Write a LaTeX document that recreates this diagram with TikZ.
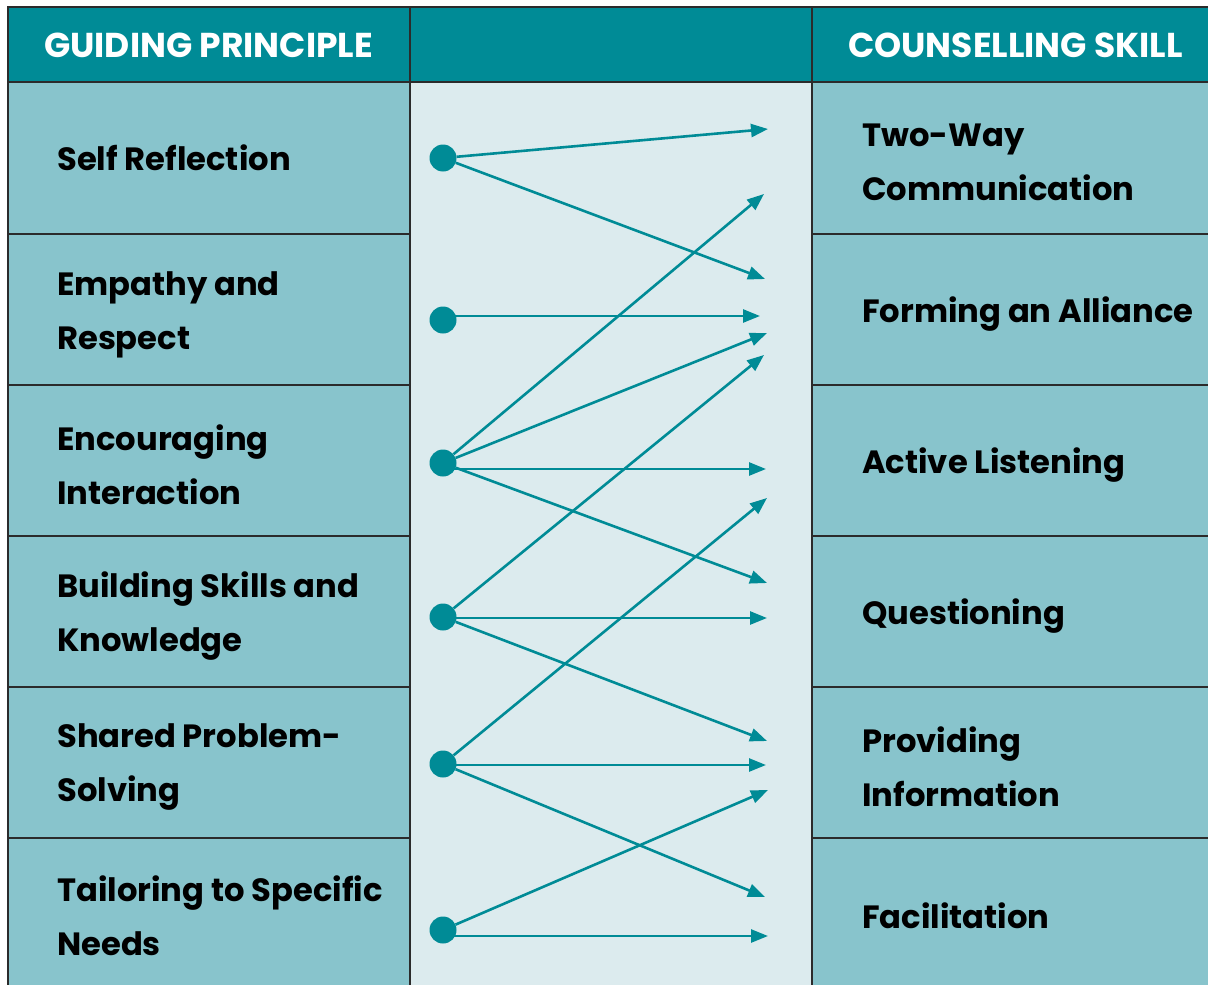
\documentclass[tikz,border=0pt]{standalone}
\usepackage{fontspec}
\setmainfont{Poppins}
\usetikzlibrary{arrows.meta}
\definecolor{tealhd}{HTML}{008B96}
\definecolor{cellbg}{HTML}{88C4CC}
\definecolor{midbg}{HTML}{DCEBEE}
\definecolor{rulec}{HTML}{2B2B2B}
\begin{document}
\begin{tikzpicture}[x=1pt,y=-1pt,>={Triangle[length=17pt,width=13pt]},
  lab/.style={anchor=west,align=left,inner sep=0pt,font=\fontsize{32.2}{54}\selectfont\bfseries},
  head/.style={anchor=west,inner sep=0pt,text=white,font=\fontsize{34.5}{36}\selectfont\bfseries},
  dot/.style={circle,fill=tealhd,inner sep=0pt,minimum size=27pt},
  arr/.style={->,draw=tealhd,fill=tealhd,line width=2.6pt},
  rule/.style={rulec,line width=1.5pt}]
\useasboundingbox (0,0) rectangle (1208,985);
\fill[white] (0,0) rectangle (1208,985);
% backgrounds
\fill[tealhd] (8,7) rectangle (1208,82);
\fill[cellbg] (8,82) rectangle (410,985);
\fill[midbg] (410,82) rectangle (812,985);
\fill[cellbg] (812,82) rectangle (1208,985);
% table rules
\draw[rule] (8,985)--(8,7)--(1208,7);
\draw[rule] (8,82)--(1208,82);
\draw[rule] (410,7)--(410,985) (812,7)--(812,985);
\foreach \y in {234,385,536,687,838}
  {\draw[rule] (8,\y)--(410,\y) (812,\y)--(1208,\y);}
% headers
\node[head] (hprin) at (44,45) {GUIDING PRINCIPLE};
\node[head] (hskill) at (848,45) {COUNSELLING SKILL};
% principles
\node[lab] (p1) at (57,158) {Self Reflection};
\node[lab] (p2) at (57,315) {Empathy and\\Respect};
\node[lab] (p3) at (57,465) {Encouraging\\Interaction};
\node[lab] (p4) at (57,616) {Building Skills and\\Knowledge};
\node[lab] (p5) at (57,767) {Shared Problem-\\Solving};
\node[lab] (p6) at (57,916) {Tailoring to Specific\\Needs};
% skills
\node[lab] (s1) at (862,162) {Two-Way\\Communication};
\node[lab] (s2) at (862,314) {Forming an Alliance};
\node[lab] (s3) at (862,465) {Active Listening};
\node[lab] (s4) at (862,616) {Questioning};
\node[lab] (s5) at (862,767) {Providing\\Information};
\node[lab] (s6) at (862,916) {Facilitation};
% dots
\foreach \n/\y in {1/158,2/320,3/463,4/617,5/764,6/930}
  \node[dot] (d\n) at (443,\y) {};
% arrow tips
\coordinate (t1) at (768,129);
\coordinate (t2) at (764,194);
\coordinate (t3) at (765,279);
\coordinate (t4) at (760,316);
\coordinate (t5) at (767,333);
\coordinate (t6) at (764,355);
\coordinate (t7) at (766,469);
\coordinate (t8) at (767,498);
\coordinate (t9) at (767,583);
\coordinate (t10) at (767,618);
\coordinate (t11) at (767,741);
\coordinate (t12) at (766,765);
\coordinate (t13) at (768,790);
\coordinate (t14) at (765,897);
\coordinate (t15) at (768,936);
\foreach \a/\b in {d1/t1,d1/t3,d3/t2,d3/t5,d3/t9,d4/t6,d4/t11,d5/t8,d5/t14,d6/t13}
  \draw[arr] (\a)--(\b);
% straight across
\foreach \a/\b in {d2/t4,d3/t7,d4/t10,d5/t12,d6/t15}
  \draw[arr] (\b -| \a)--(\b);
\end{tikzpicture}
\end{document}
